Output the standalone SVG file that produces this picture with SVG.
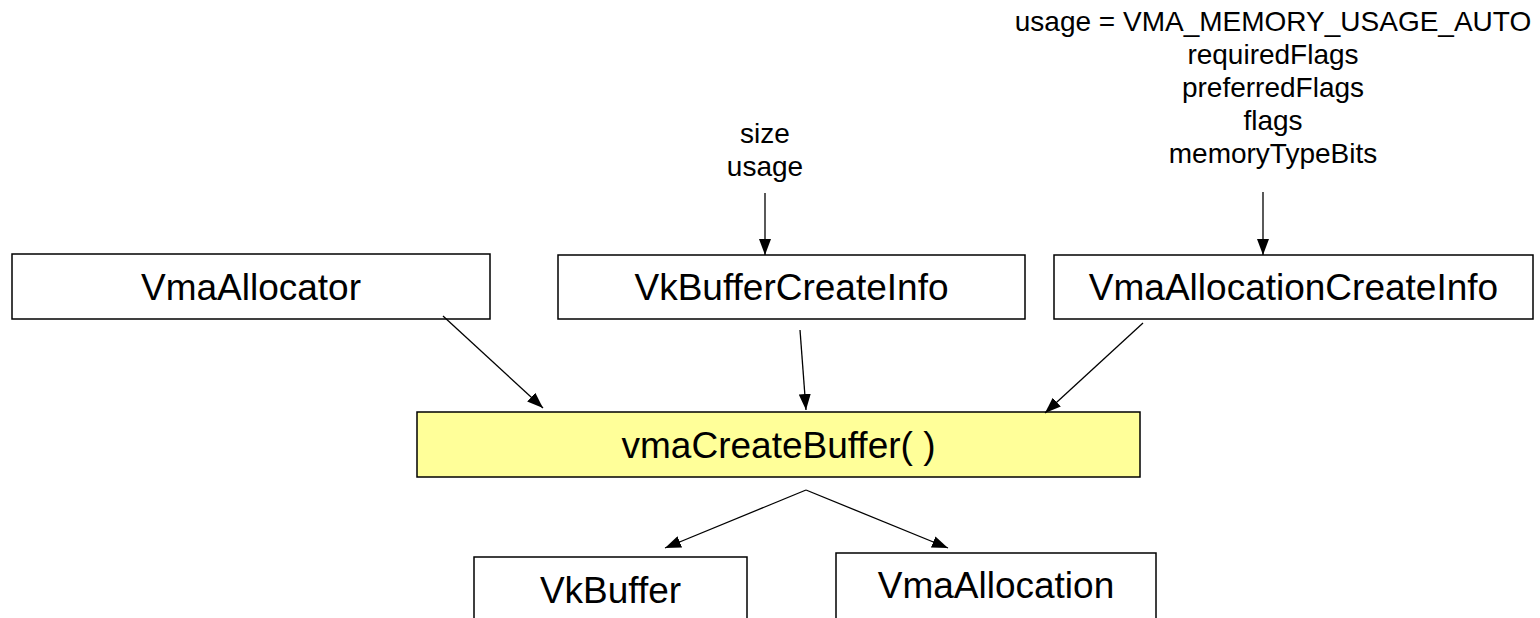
<svg xmlns="http://www.w3.org/2000/svg" width="1540" height="618" viewBox="0 0 1540 618">
<defs>
<marker id="ah" viewBox="0 0 16 12" refX="16" refY="6" markerWidth="16" markerHeight="12" markerUnits="userSpaceOnUse" orient="auto">
<path d="M0,0 L16,6 L0,12 Z" fill="#000"/>
</marker>
<style>
.box{fill:#fff;stroke:#000;stroke-width:1.5}
.fn{fill:#ffff99;stroke:#000;stroke-width:1.5}
.lbl{font-family:"Liberation Sans",Arial,sans-serif;font-size:37px;fill:#000;text-anchor:middle}
.note{font-family:"Liberation Sans",Arial,sans-serif;font-size:28px;fill:#000;text-anchor:middle}
.edge{stroke:#000;stroke-width:1.3;fill:none;marker-end:url(#ah)}
</style>
</defs>
<rect width="1540" height="618" fill="#fff"/>
<g id="note-buffer">
<text class="note" x="765" y="143">size</text>
<text class="note" x="765" y="176">usage</text>
</g>
<g id="note-alloc">
<text class="note" x="1273" y="31">usage = VMA_MEMORY_USAGE_AUTO</text>
<text class="note" x="1273" y="64">requiredFlags</text>
<text class="note" x="1273" y="97">preferredFlags</text>
<text class="note" x="1273" y="130">flags</text>
<text class="note" x="1273" y="163">memoryTypeBits</text>
</g>
<g id="VmaAllocator">
<rect class="box" x="12" y="254" width="478" height="65"/>
<text class="lbl" x="251" y="300">VmaAllocator</text>
</g>
<g id="VkBufferCreateInfo">
<rect class="box" x="558" y="255" width="467" height="64"/>
<text class="lbl" x="791.5" y="300">VkBufferCreateInfo</text>
</g>
<g id="VmaAllocationCreateInfo">
<rect class="box" x="1054" y="255" width="479" height="64"/>
<text class="lbl" x="1293.5" y="300">VmaAllocationCreateInfo</text>
</g>
<g id="vmaCreateBuffer">
<rect class="fn" x="417" y="412" width="723" height="65"/>
<text class="lbl" x="778.5" y="458">vmaCreateBuffer( )</text>
</g>
<g id="VkBuffer">
<rect class="box" x="474" y="557" width="273" height="80"/>
<text class="lbl" x="610.5" y="603">VkBuffer</text>
</g>
<g id="VmaAllocation">
<rect class="box" x="836" y="553" width="320" height="80"/>
<text class="lbl" x="996" y="598">VmaAllocation</text>
</g>
<g id="connectors">
<line class="edge" x1="765" y1="193" x2="765" y2="255"/>
<line class="edge" x1="1263" y1="192" x2="1263" y2="255"/>
<line class="edge" x1="443" y1="316" x2="543" y2="408"/>
<line class="edge" x1="800" y1="330" x2="806" y2="410"/>
<line class="edge" x1="1143" y1="323" x2="1045" y2="413"/>
<line class="edge" x1="806" y1="490" x2="665" y2="548"/>
<line class="edge" x1="806" y1="490" x2="948" y2="548"/>
</g>
</svg>
